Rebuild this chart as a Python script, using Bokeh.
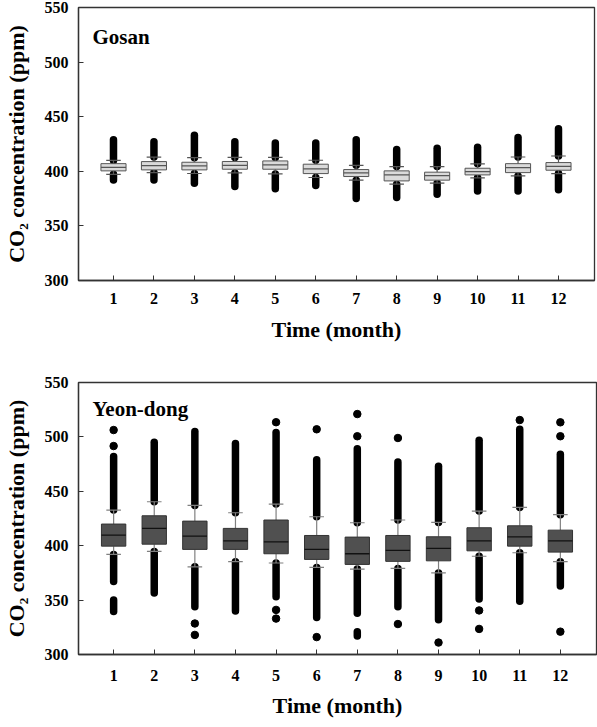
import numpy as np
from bokeh.plotting import figure
from bokeh.models import FixedTicker, Label, Range1d
from bokeh.layouts import column
from bokeh.embed import file_html
from bokeh.resources import INLINE

months = list(range(1, 13))
x_tick_labels = {m: str(m) for m in months}
y_ticks = [300, 350, 400, 450, 500, 550]

# ---- Gosan (top panel) ----
gosan_q1 = [400.4, 401.3, 401.3, 401.9, 401.9, 397.9, 395.2, 391.2, 391.9, 396.7, 398.8, 401.0]
gosan_med = [403.6, 405.2, 405.0, 405.5, 405.8, 402.2, 398.5, 396.7, 396.1, 399.7, 403.4, 404.6]
gosan_q3 = [407.0, 408.9, 408.3, 409.0, 409.5, 406.5, 401.6, 400.4, 399.2, 402.8, 407.0, 408.0]
gosan_whi = [410.0, 413.0, 412.5, 412.7, 412.7, 410.1, 405.5, 404.3, 404.3, 406.8, 413.1, 414.0]
gosan_wlo = [397.2, 398.8, 398.0, 398.5, 397.6, 394.3, 391.9, 388.2, 389.1, 394.0, 395.8, 397.9]
gosan_out_top = [429, 427, 433, 427, 426, 426, 429, 420, 421, 422, 431, 439]
gosan_out_bottom = [392, 392, 389, 386, 384, 387, 375, 376, 379, 382, 382, 383]

# ---- Yeon-dong (bottom panel) ----
yd_q1 = [399.6, 401.4, 396.6, 396.6, 392.6, 387.4, 382.8, 385.6, 386.1, 395.3, 399.6, 394.1]
yd_med = [409.8, 415.9, 408.8, 404.5, 403.6, 396.6, 392.6, 395.7, 397.5, 404.5, 408.2, 404.5]
yd_q3 = [419.9, 427.5, 422.6, 415.9, 423.6, 409.4, 407.9, 409.4, 408.2, 416.5, 418.3, 414.3]
yd_whi = [432.7, 440.4, 437.0, 430.3, 438.3, 426.6, 421.1, 423.6, 421.4, 431.8, 435.2, 428.5]
yd_wlo = [392.0, 394.7, 380.6, 385.3, 384.1, 380.0, 378.5, 379.1, 375.0, 390.3, 393.5, 385.3]
yd_out_top = [482, 495, 505, 494, 504, 479, 489, 477, 473, 497, 507, 484]
yd_out_bottom = [367, 356.5, 344, 340, 353, 334, 338, 344, 332, 351, 349, 363]
yd_extra_month = [1, 7]
yd_extra_lo = [339.5, 317]
yd_extra_hi = [350, 321]
yd_pt_month = [1, 1, 3, 3, 5, 5, 5, 6, 6, 7, 7, 8, 8, 9, 10, 10, 11, 12, 12, 12]
yd_pt_value = [491.6, 506.3, 328.5, 318, 513.5, 341, 333, 507, 316, 500.6, 521, 499, 328,
               311, 340.5, 323.5, 515.5, 500.6, 513.4, 321]

FONT = "Liberation Serif"


def make_panel(name, q1, med, q3, wlo, whi, run_x, run_lo, run_hi, pt_x, pt_y,
               box_fill, box_line, med_color, whisker_color, box_w,
               frame_w, frame_h, b_top, b_bottom, b_left, b_right, label_y,
               tick_standoff, title_standoff):
    p = figure(frame_width=frame_w, frame_height=frame_h,
               x_range=Range1d(0.135, 12.89), y_range=Range1d(300, 550),
               output_backend="svg", toolbar_location=None,
               min_border_top=b_top, min_border_bottom=b_bottom,
               min_border_left=b_left, min_border_right=b_right)
    p.xgrid.visible = False
    p.ygrid.visible = False
    p.outline_line_color = "#333333"
    p.outline_line_width = 1.3
    p.background_fill_color = "white"
    p.border_fill_color = "white"

    m = np.array(months, dtype=float)
    cap_w = 0.18
    half = box_w / 2

    # outliers (dense runs and isolated points)
    p.segment(x0=run_x, y0=run_lo, x1=run_x, y1=run_hi, line_color="black",
              line_width=7.5, line_cap="round")
    if len(pt_x):
        p.scatter(x=pt_x, y=pt_y, marker="circle", size=7.5, fill_color="black",
                  line_color="black")

    # whiskers and caps
    p.segment(x0=m, y0=q3, x1=m, y1=whi, line_color=whisker_color, line_width=1.2)
    p.segment(x0=m, y0=q1, x1=m, y1=wlo, line_color=whisker_color, line_width=1.2)
    p.segment(x0=m - cap_w, y0=whi, x1=m + cap_w, y1=whi, line_color=whisker_color, line_width=1.2)
    p.segment(x0=m - cap_w, y0=wlo, x1=m + cap_w, y1=wlo, line_color=whisker_color, line_width=1.2)

    # boxes and medians
    p.vbar(x=m, width=box_w, top=q3, bottom=q1, fill_color=box_fill, line_color=box_line,
           line_width=1)
    p.segment(x0=m - half, y0=med, x1=m + half, y1=med, line_color=med_color, line_width=1.3)

    # axes
    for ax in (p.xaxis[0], p.yaxis[0]):
        ax.major_tick_in = 5
        ax.major_tick_out = 0
        ax.minor_tick_in = 0
        ax.minor_tick_out = 0
        ax.axis_line_color = "#333333"
        ax.axis_line_width = 1.3
        ax.major_tick_line_color = "#333333"
        ax.major_label_text_font = FONT
        ax.major_label_text_font_style = "bold"
        ax.major_label_text_font_size = "16px"
        ax.major_label_text_color = "black"
        ax.axis_label_text_font = FONT
        ax.axis_label_text_font_style = "bold"
        ax.axis_label_text_font_size = "22px"
        ax.axis_label_text_color = "black"

    p.xaxis.ticker = FixedTicker(ticks=months)
    p.xaxis.major_label_overrides = x_tick_labels
    p.xaxis.axis_label = "Time (month)"
    p.xaxis.major_label_standoff = tick_standoff
    p.xaxis.axis_label_standoff = title_standoff

    p.yaxis.ticker = FixedTicker(ticks=y_ticks)
    p.yaxis.axis_label = "CO\u2082 concentration (ppm)"
    p.yaxis.major_label_standoff = 10
    p.yaxis.axis_label_standoff = 13

    p.add_layout(Label(x=14, y=label_y, x_units="screen", y_units="screen", text=name,
                       text_font=FONT, text_font_style="bold", text_font_size="21px",
                       text_baseline="middle", text_color="black"))
    return p


mg = np.array(months, dtype=float)
g_run_x = np.concatenate([mg, mg])
g_run_lo = np.concatenate([gosan_whi, gosan_out_bottom])
g_run_hi = np.concatenate([gosan_out_top, gosan_wlo])

y_run_x = np.concatenate([mg, mg, yd_extra_month])
y_run_lo = np.concatenate([yd_whi, yd_out_bottom, yd_extra_lo])
y_run_hi = np.concatenate([yd_out_top, yd_wlo, yd_extra_hi])

top = make_panel("Gosan", gosan_q1, gosan_med, gosan_q3, gosan_wlo, gosan_whi,
                 g_run_x, g_run_lo, g_run_hi, [], [],
                 "#dadada", "#555555", "#555555", "#555555", 0.62,
                 516, 273, 7, 75, 73, 8, 244, 12, 10)

bottom = make_panel("Yeon-dong", yd_q1, yd_med, yd_q3, yd_wlo, yd_whi,
                    y_run_x, y_run_lo, y_run_hi, yd_pt_month, yd_pt_value,
                    "#505050", "#333333", "#111111", "#808080", 0.6,
                    518, 272, 27, 73, 72, 7, 246, 15, 9)

layout = column(top, bottom, spacing=0)
open("out.html", "w").write(file_html(layout, INLINE))
